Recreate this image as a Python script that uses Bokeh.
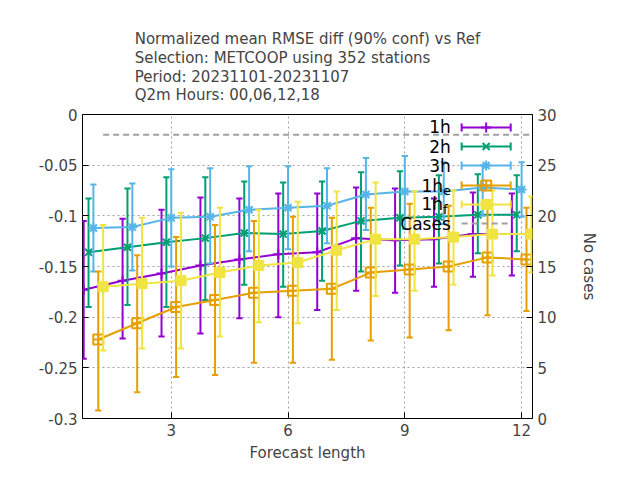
from bokeh.plotting import figure
from bokeh.models import Range1d, LinearAxis, FixedTicker
from bokeh.embed import file_html
from bokeh.resources import INLINE
from bokeh.core.properties import value

hours = [1,2,3,4,5,6,7,8,9,10,11,12]
m_1h = [-0.173,-0.164,-0.157,-0.149,-0.143,-0.138,-0.136,-0.122,-0.124,-0.123,-0.118,-0.118]
lo_1h = [-0.241,-0.221,-0.219,-0.216,-0.201,-0.200,-0.193,-0.174,-0.176,-0.170,-0.160,-0.159]
hi_1h = [-0.105,-0.103,-0.094,-0.082,-0.083,-0.078,-0.078,-0.072,-0.073,-0.083,-0.077,-0.078]
m_2h = [-0.136,-0.131,-0.126,-0.122,-0.117,-0.118,-0.115,-0.105,-0.102,-0.101,-0.099,-0.099]
lo_2h = [-0.190,-0.188,-0.190,-0.183,-0.168,-0.170,-0.164,-0.155,-0.149,-0.147,-0.137,-0.135]
hi_2h = [-0.083,-0.073,-0.062,-0.062,-0.066,-0.067,-0.066,-0.057,-0.056,-0.060,-0.059,-0.060]
m_3h = [-0.112,-0.111,-0.102,-0.101,-0.094,-0.092,-0.090,-0.079,-0.076,-0.076,-0.072,-0.074]
lo_3h = [-0.155,-0.154,-0.150,-0.147,-0.135,-0.133,-0.127,-0.114,-0.113,-0.108,-0.100,-0.101]
hi_3h = [-0.069,-0.068,-0.054,-0.053,-0.051,-0.051,-0.053,-0.043,-0.041,-0.047,-0.050,-0.047]
m_1he = [-0.222,-0.206,-0.190,-0.183,-0.176,-0.174,-0.172,-0.156,-0.153,-0.150,-0.141,-0.143]
lo_1he = [-0.292,-0.274,-0.259,-0.257,-0.245,-0.245,-0.242,-0.223,-0.220,-0.213,-0.198,-0.194]
hi_1he = [-0.155,-0.139,-0.121,-0.109,-0.105,-0.101,-0.102,-0.092,-0.088,-0.090,-0.085,-0.092]
m_1hf = [-0.170,-0.167,-0.164,-0.156,-0.149,-0.146,-0.134,-0.123,-0.123,-0.121,-0.118,-0.118]
lo_1hf = [-0.233,-0.231,-0.231,-0.219,-0.205,-0.206,-0.193,-0.179,-0.174,-0.168,-0.159,-0.156]
hi_1hf = [-0.109,-0.102,-0.097,-0.092,-0.094,-0.086,-0.076,-0.067,-0.076,-0.075,-0.075,-0.081]
cases = [28,28,28,28,28,28,28,28,28,28,28,28]

FONT = "DejaVu Sans"
titles = ["Normalized mean RMSE diff (90% conf) vs Ref",
          "Selection: METCOOP using   352 stations",
          "Period: 20231101-20231107",
          "Q2m   Hours: 00,06,12,18"]

p = figure(width=624, height=464, output_backend="svg", toolbar_location=None,
           x_range=Range1d(0.72, 12.28), y_range=Range1d(-0.3, 0),
           min_border_left=82, min_border_right=92, min_border_top=114, min_border_bottom=46)
p.title.text = "\n".join(titles)
p.title.align = "center"
p.title.text_font = FONT
p.title.text_font_size = "15px"
p.title.text_font_style = "normal"
p.title.text_line_height = 1.05
p.title.standoff = 20
p.outline_line_color = "black"
p.outline_line_width = 1
p.extra_y_ranges = {"cases": Range1d(0, 30)}
for ax in [p.xaxis[0], p.yaxis[0]]:
    ax.major_label_text_font = FONT
    ax.major_label_text_font_size = "15px"
    ax.major_tick_in = 6; ax.major_tick_out = 0; ax.minor_tick_line_color = None
    ax.axis_line_color = None
p.xaxis.ticker = FixedTicker(ticks=[3,6,9,12])
p.yaxis.ticker = FixedTicker(ticks=[0,-0.05,-0.1,-0.15,-0.2,-0.25,-0.3])
p.yaxis.major_label_overrides = {0: "0", -0.05: "-0.05", -0.1: "-0.1", -0.15: "-0.15", -0.2: "-0.2", -0.25: "-0.25", -0.3: "-0.3"}
p.xaxis.axis_label = "Forecast length"
p.xaxis.axis_label_text_font = FONT
p.xaxis.axis_label_text_font_size = "15px"
p.xaxis.axis_label_text_font_style = "normal"
ra = LinearAxis(y_range_name="cases", ticker=FixedTicker(ticks=[0,5,10,15,20,25,30]),
                axis_label="No cases")
ra.major_label_text_font = FONT; ra.major_label_text_font_size = "15px"
ra.axis_label_text_font = FONT; ra.axis_label_text_font_size = "15px"; ra.axis_label_text_font_style = "normal"
ra.major_tick_in = 6; ra.major_tick_out = 0; ra.minor_tick_line_color = None; ra.axis_line_color = None
ra.axis_label_standoff = 20
p.add_layout(ra, "right")
for g in [p.xgrid[0], p.ygrid[0]]:
    g.grid_line_color = "#a0a0a0"; g.grid_line_dash = "2 3"; g.grid_line_width = 1
p.xgrid.ticker = FixedTicker(ticks=[3,6,9,12])
p.ygrid.ticker = FixedTicker(ticks=[-0.05,-0.1,-0.15,-0.2,-0.25])

series = [
    ("1h", "", m_1h, lo_1h, hi_1h, "#9400d3", "cross", -0.25),
    ("2h", "", m_2h, lo_2h, hi_2h, "#009e73", "x", -0.125),
    ("3h", "", m_3h, lo_3h, hi_3h, "#56b4e9", "asterisk", 0.0),
    ("1h", "e", m_1he, lo_1he, hi_1he, "#e69f00", "square_cross", 0.125),
    ("1h", "f", m_1hf, lo_1hf, hi_1hf, "#f0e442", "square", 0.25),
]
cw = 0.08
for name, sub, m, lo, hi, col, mk, off in series:
    xs = [h + off for h in hours]
    p.segment(xs, lo, xs, hi, line_color=col, line_width=2)
    p.segment([x - cw for x in xs], lo, [x + cw for x in xs], lo, line_color=col, line_width=2)
    p.segment([x - cw for x in xs], hi, [x + cw for x in xs], hi, line_color=col, line_width=2)
    p.line(xs, m, line_color=col, line_width=2)
    if mk == "square":
        p.scatter(xs, m, marker=mk, size=10, fill_color=col, line_color=col)
    else:
        p.scatter(xs, m, marker=mk, size=10, fill_color=None, line_color=col, line_width=2)

p.line([h + 0.25 for h in hours], cases, y_range_name="cases", line_color="#a0a0a0",
       line_width=2, line_dash="6 4")

# legend
rows = [-0.0128, -0.0316, -0.0504, -0.0701, -0.0888, -0.1076]
x0, x1, xt = 10.46, 11.72, 10.18
for (name, sub, m, lo, hi, col, mk, off), yy in zip(series, rows[:5]):
    p.segment([x0], [yy], [x1], [yy], line_color=col, line_width=2)
    p.segment([x0, x1], [yy - 0.004, yy - 0.004], [x0, x1], [yy + 0.004, yy + 0.004], line_color=col, line_width=2)
    xm = (x0 + x1) / 2
    if mk == "square":
        p.scatter([xm], [yy], marker=mk, size=10, fill_color=col, line_color=col)
    else:
        p.scatter([xm], [yy], marker=mk, size=10, fill_color=None, line_color=col, line_width=2)
    if sub:
        p.text([xt - 0.2], [yy], text=[name], text_align="right", text_baseline="middle",
               text_font=value(FONT), text_font_size="17px", text_color="black")
        p.text([xt - 0.2], [yy - 0.005], text=[sub], text_align="left", text_baseline="middle",
               text_font=value(FONT), text_font_size="13px", text_color="black")
    else:
        p.text([xt], [yy], text=[name], text_align="right", text_baseline="middle",
               text_font=value(FONT), text_font_size="17px", text_color="black")
p.segment([x0], [rows[5]], [x1], [rows[5]], line_color="#a0a0a0", line_width=2, line_dash="6 4")
p.text([xt], [rows[5]], text=["Cases"], text_align="right", text_baseline="middle",
       text_font=value(FONT), text_font_size="17px", text_color="black")

open("out.html", "w").write(file_html(p, INLINE))
